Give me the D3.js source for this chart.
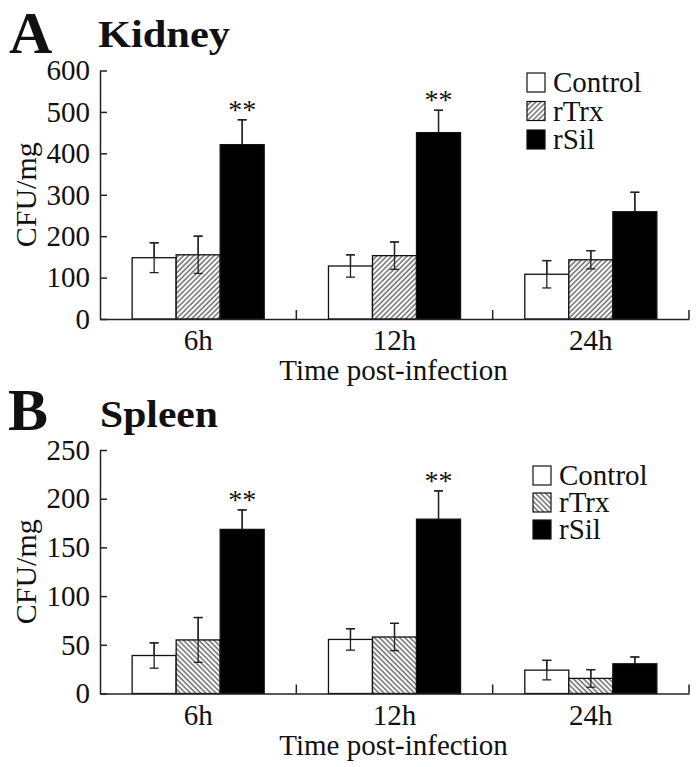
<!DOCTYPE html>
<html>
<head>
<meta charset="utf-8">
<script src="https://cdn.jsdelivr.net/npm/d3@7"></script>
<style>
  html, body { margin: 0; padding: 0; background: #fff; }
  svg { display: block; }
  text { font-family: "Liberation Serif", "Times New Roman", serif; fill: #111; }
</style>
</head>
<body>
<svg id="chart" width="699" height="767"></svg>
<script>
// ---- Data ----
const categories = ["6h", "12h", "24h"];
const series = ["Control", "rTrx", "rSil"];

const kidneyControl = [148, 128, 108];
const kidneyTrx     = [155, 153, 143];
const kidneySil     = [421, 450, 259];
const kidneyControlErr = [36, 27, 33];
const kidneyTrxErr     = [45, 33, 22];
const kidneySilErr     = [60, 54, 47];
const kidneySilSig     = ["**", "**", ""];
const kidneyTicks = [0, 100, 200, 300, 400, 500, 600];

const spleenControl = [39, 55.5, 24];
const spleenTrx     = [55, 58, 15.5];
const spleenSil     = [168.5, 179, 30.5];
const spleenControlErr = [13, 11, 10];
const spleenTrxErr     = [23, 14, 9];
const spleenSilErr     = [20, 29, 7];
const spleenSilSig     = ["**", "**", ""];
const spleenTicks = [0, 50, 100, 150, 200, 250];

const yLabel = "CFU/mg";
const xLabel = "Time post-infection";

// ---- Drawing ----
const svg = d3.select("#chart");
const defs = svg.append("defs");

function makeHatch(id, angle) {
  const p = defs.append("pattern")
    .attr("id", id)
    .attr("patternUnits", "userSpaceOnUse")
    .attr("width", 3.6).attr("height", 3.6)
    .attr("patternTransform", `rotate(${angle})`);
  p.append("rect").attr("width", 3.6).attr("height", 3.6).attr("fill", "#fff");
  p.append("line").attr("x1", 1).attr("y1", 0).attr("x2", 1).attr("y2", 3.6)
    .attr("stroke", "#3a3a3a").attr("stroke-width", 1.1);
}
makeHatch("hatchA", 45);
makeHatch("hatchB", -45);

function panel(cfg) {
  const g = svg.append("g");
  const x = d3.scaleBand().domain(categories).range([cfg.x0, cfg.x1]).padding(0);
  const xs = d3.scaleBand().domain(series).range([0, x.bandwidth()])
    .paddingInner(0).paddingOuter(0.73);
  const y = d3.scaleLinear().domain(cfg.domain).range([cfg.yBottom, cfg.yTop]);

  const fills = { Control: "#fff", rTrx: `url(#${cfg.hatch})`, rSil: "#000" };

  // bars
  const rows = [];
  categories.forEach((c, i) => {
    series.forEach((s, j) => {
      rows.push({ c, s, v: cfg.values[j][i], e: cfg.errors[j][i], sig: j === 2 ? cfg.sig[i] : "" });
    });
  });

  // error bars (drawn first so bar fill covers lower half for black bars as in original)
  const eg = g.append("g").attr("stroke", "#222").attr("stroke-width", 1.3);
  rows.forEach(d => {
    const cx = x(d.c) + xs(d.s) + xs.bandwidth() / 2;
    const yt = y(d.v + d.e), yb = y(d.v - d.e);
    eg.append("line").attr("x1", cx).attr("x2", cx).attr("y1", yt).attr("y2", yb);
    eg.append("line").attr("x1", cx - 4.5).attr("x2", cx + 4.5).attr("y1", yt).attr("y2", yt);
    eg.append("line").attr("x1", cx - 4.5).attr("x2", cx + 4.5).attr("y1", yb).attr("y2", yb);
  });

  g.append("g").selectAll("rect").data(rows).join("rect")
    .attr("x", d => x(d.c) + xs(d.s))
    .attr("y", d => y(d.v))
    .attr("width", xs.bandwidth())
    .attr("height", d => y(0) - y(d.v))
    .attr("fill", d => fills[d.s])
    .attr("stroke", "#111").attr("stroke-width", 1.3);

  // redraw error bars on top for non-black bars (visible through white/hatched)
  const eg2 = g.append("g").attr("stroke", "#222").attr("stroke-width", 1.3);
  rows.forEach(d => {
    const cx = x(d.c) + xs(d.s) + xs.bandwidth() / 2;
    const yt = y(d.v + d.e), yb = y(d.v - d.e);
    if (d.s !== "rSil") {
      eg2.append("line").attr("x1", cx).attr("x2", cx).attr("y1", yt).attr("y2", yb);
      eg2.append("line").attr("x1", cx - 4.5).attr("x2", cx + 4.5).attr("y1", yb).attr("y2", yb);
    } else {
      eg2.append("line").attr("x1", cx).attr("x2", cx).attr("y1", yt).attr("y2", y(d.v));
    }
    eg2.append("line").attr("x1", cx - 4.5).attr("x2", cx + 4.5).attr("y1", yt).attr("y2", yt);
  });

  // significance
  g.append("g").selectAll("text").data(rows.filter(d => d.sig)).join("text")
    .attr("x", d => x(d.c) + xs(d.s) + xs.bandwidth() / 2)
    .attr("y", d => y(d.v + d.e) - 1)
    .attr("text-anchor", "middle")
    .attr("font-size", 28)
    .text(d => d.sig);

  // y axis
  const yAxis = d3.axisLeft(y).tickValues(cfg.ticks).tickSizeInner(-7).tickSizeOuter(0).tickPadding(10);
  const ya = g.append("g").attr("transform", `translate(${cfg.x0},0)`).call(yAxis);
  ya.select(".domain").attr("stroke", "#222").attr("stroke-width", 1.5);
  ya.selectAll(".tick line").attr("stroke", "#222").attr("stroke-width", 1.5);
  ya.selectAll(".tick text").attr("font-size", 29).attr("font-family", "Liberation Serif").attr("fill", "#111");

  // x axis
  const xAxis = d3.axisBottom(x).tickSize(0).tickPadding(0);
  const xa = g.append("g").attr("transform", `translate(0,${y(0)})`).call(xAxis);
  xa.select(".domain").attr("stroke", "#222").attr("stroke-width", 1.5);
  xa.selectAll(".tick text").attr("font-size", 29).attr("font-family", "Liberation Serif")
    .attr("fill", "#111").attr("dy", 0).attr("y", 31);
  // group separators (ticks pointing inward)
  const seps = categories.map(c => x(c) + x.bandwidth());
  g.append("g").selectAll("line").data(seps).join("line")
    .attr("x1", d => d).attr("x2", d => d)
    .attr("y1", y(0)).attr("y2", y(0) - 9)
    .attr("stroke", "#222").attr("stroke-width", 1.5);

  // axis titles
  g.append("text")
    .attr("transform", `translate(36,${(cfg.yTop + cfg.yBottom) / 2}) rotate(-90)`)
    .attr("text-anchor", "middle").attr("font-size", 30).text(yLabel);
  g.append("text")
    .attr("x", (cfg.x0 + cfg.x1) / 2 - 1).attr("y", y(0) + 61)
    .attr("text-anchor", "middle").attr("font-size", 29).text(xLabel);

  // panel letter & title
  g.append("text").attr("x", cfg.letterX).attr("y", cfg.letterY)
    .attr("font-size", 60).attr("font-weight", "bold").attr("fill", "#000").text(cfg.letter);
  g.append("text").attr("x", cfg.titleX).attr("y", cfg.titleY)
    .attr("font-size", 38).attr("font-weight", "bold").attr("fill", "#000")
    .attr("textLength", cfg.titleLen).attr("lengthAdjust", "spacingAndGlyphs")
    .text(cfg.title);

  // legend
  const lg = g.append("g");
  series.forEach((s, j) => {
    const ty = cfg.legY + j * cfg.legStep;
    lg.append("rect").attr("x", cfg.legX).attr("y", ty - 18).attr("width", 18).attr("height", 19)
      .attr("fill", fills[s]).attr("stroke", "#111").attr("stroke-width", 1.2);
    lg.append("text").attr("x", cfg.legX + 26).attr("y", ty + 1)
      .attr("font-size", 29).text(s);
  });
}

panel({
  x0: 100, x1: 689, yTop: 70.5, yBottom: 319, domain: [0, 600], ticks: kidneyTicks,
  values: [kidneyControl, kidneyTrx, kidneySil],
  errors: [kidneyControlErr, kidneyTrxErr, kidneySilErr],
  sig: kidneySilSig, hatch: "hatchA",
  letter: "A", letterX: 9, letterY: 53,
  title: "Kidney", titleX: 98, titleY: 47, titleLen: 132,
  legX: 527, legY: 91, legStep: 28.5
});

panel({
  x0: 100, x1: 689, yTop: 450, yBottom: 693.5, domain: [0, 250], ticks: spleenTicks,
  values: [spleenControl, spleenTrx, spleenSil],
  errors: [spleenControlErr, spleenTrxErr, spleenSilErr],
  sig: spleenSilSig, hatch: "hatchB",
  letter: "B", letterX: 8, letterY: 430,
  title: "Spleen", titleX: 100, titleY: 427, titleLen: 118,
  legX: 533, legY: 484, legStep: 27
});
</script>
</body>
</html>
